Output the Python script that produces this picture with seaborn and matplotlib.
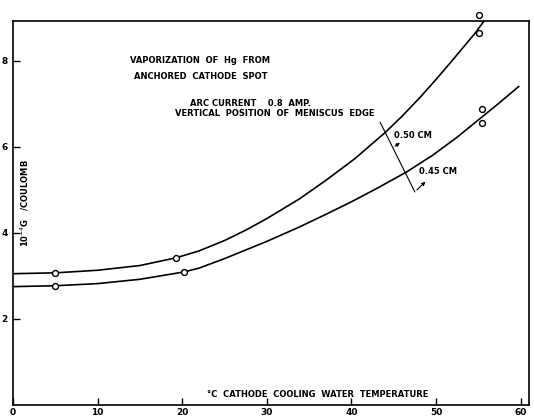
import numpy as np
import pandas as pd
import matplotlib
matplotlib.use("Agg")
import matplotlib.pyplot as plt
import seaborn as sns

# Smoothed curves of mercury vaporization vs. cooling-water temperature
temp_050 = [0, 5, 10, 15, 19.3, 22, 25, 27.6, 30, 33.8, 37, 40.4, 44.0, 46, 48.1, 50, 52.0, 54.6, 55.8]
vap_050 = [3.05, 3.07, 3.13, 3.24, 3.42, 3.58, 3.82, 4.07, 4.33, 4.78, 5.22, 5.72, 6.33, 6.71, 7.14, 7.56, 8.02, 8.63, 8.95]

temp_045 = [0, 5, 10, 15, 20.2, 22, 25, 27, 30, 33.8, 37, 40, 43, 46.5, 49.6, 52.5, 55.5, 57.5, 59.8]
vap_045 = [2.75, 2.77, 2.82, 2.92, 3.09, 3.18, 3.40, 3.56, 3.80, 4.13, 4.43, 4.72, 5.03, 5.41, 5.80, 6.22, 6.70, 7.02, 7.40]

# Measured points
meas_t_050 = [5, 19.3, 55.1, 55.1]
meas_v_050 = [3.07, 3.42, 8.63, 9.05]
meas_t_045 = [5, 20.2, 55.5, 55.5]
meas_v_045 = [2.77, 3.09, 6.56, 6.88]

x_ticks = [0, 10, 20, 30, 40, 50, 60]
y_ticks = [2, 4, 6, 8]

curves = pd.concat([
    pd.DataFrame({"t": temp_050, "v": vap_050, "pos": "0.50 CM"}),
    pd.DataFrame({"t": temp_045, "v": vap_045, "pos": "0.45 CM"}),
])
points = pd.DataFrame({"t": meas_t_050 + meas_t_045, "v": meas_v_050 + meas_v_045})

sns.set_style("ticks")
plt.rcParams["font.family"] = ["DejaVu Sans"]
plt.rcParams["text.color"] = "black"
plt.rcParams["xtick.color"] = "black"
plt.rcParams["ytick.color"] = "black"

fig = plt.figure(figsize=(5.34, 4.2), dpi=100)
ax = fig.add_axes([13 / 534, 15 / 420, 516 / 534, 384 / 420])

sns.lineplot(data=curves, x="t", y="v", units="pos", estimator=None, sort=False,
             color="black", lw=1.2, ax=ax, legend=False)
sns.scatterplot(data=points, x="t", y="v", marker="o", s=18, facecolor="white",
                edgecolor="black", linewidth=1.0, zorder=5, clip_on=False, ax=ax)

ax.set_xlim(0, 61)
ax.set_ylim(0, 8.92)
ax.set_xticks(x_ticks)
ax.set_xticklabels([str(v) for v in x_ticks])
ax.set_yticks(y_ticks)
ax.set_yticklabels([str(v) for v in y_ticks])
ax.tick_params(direction="in", length=5, width=1, labelsize=6.5, pad=2,
               colors="black", labelcolor="black")
ax.tick_params(axis="y", pad=4)
for lbl in ax.get_xticklabels() + ax.get_yticklabels():
    lbl.set_fontweight("bold")
for s in ax.spines.values():
    s.set_linewidth(1.2)
    s.set_color("black")
    s.set_visible(True)
ax.set_xlabel("")
ax.set_ylabel("")

fs = 6.0
tk = dict(fontsize=fs, fontweight="bold", color="black", va="center")
ax.text(22.1, 8.01, "VAPORIZATION  OF  Hg  FROM", ha="center", **tk)
ax.text(22.2, 7.62, "ANCHORED  CATHODE  SPOT", ha="center", **tk)
ax.text(20.9, 7.01, "ARC CURRENT    0.8  AMP.", ha="left", **tk)
ax.text(19.1, 6.76, "VERTICAL  POSITION  OF  MENISCUS  EDGE", ha="left", **tk)
ax.text(45.0, 6.27, "0.50 CM", ha="left", **tk)
ax.text(48.0, 5.42, "0.45 CM", ha="left", **tk)
ax.text(22.9, 0.25, "°C  CATHODE  COOLING  WATER  TEMPERATURE", ha="left", **tk)
ax.text(1.4, 4.7, r"10$^{-4}$G   /COULOMB", ha="center", rotation=90, **tk)

# Bracket with leader arrows pointing to each curve
ax.plot([43.4, 47.5], [6.57, 4.95], color="black", lw=0.8)
ax.annotate("", xy=(46.0, 6.13), xytext=(44.9, 5.97),
            arrowprops=dict(arrowstyle="-|>", color="black", lw=0.8, mutation_scale=5))
ax.annotate("", xy=(49.0, 5.23), xytext=(47.5, 4.95),
            arrowprops=dict(arrowstyle="-|>", color="black", lw=0.8, mutation_scale=5))

fig.savefig("out.png", dpi=100)
